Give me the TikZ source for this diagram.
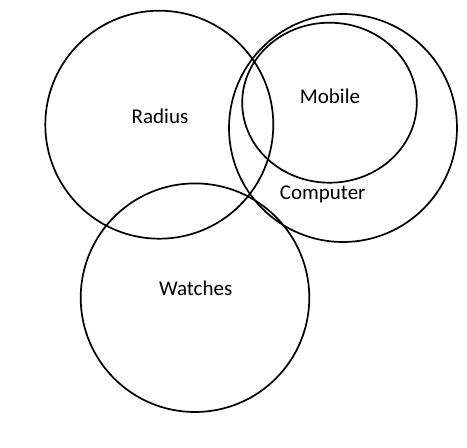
\documentclass[tikz,border=0pt]{standalone}
\usepackage{fontspec}
\setmainfont{Carlito}
\begin{document}
\begin{tikzpicture}[x=1pt,y=-1pt,
  ring/.style={draw=black,line width=1.7pt},
  lbl/.style={anchor=base,inner sep=0pt,font=\fontsize{21}{25}\selectfont}]
\useasboundingbox (0,0) rectangle (467,448);
\draw[ring] (159.3,124.7) circle (114);
\draw[ring] (343,128) circle (114);
\draw[ring] (329.5,102.7) ellipse [x radius=87.3, y radius=80];
\draw[ring] (195,297.7) circle (114.3);
\node[lbl] (radius) at (160,123) {Radius};
\node[lbl] (mobile) at (330,103.3) {Mobile};
\node[lbl] (computer) at (322.7,199) {Computer};
\node[lbl] (watches) at (195.7,295.7) {Watches};
\end{tikzpicture}
\end{document}
